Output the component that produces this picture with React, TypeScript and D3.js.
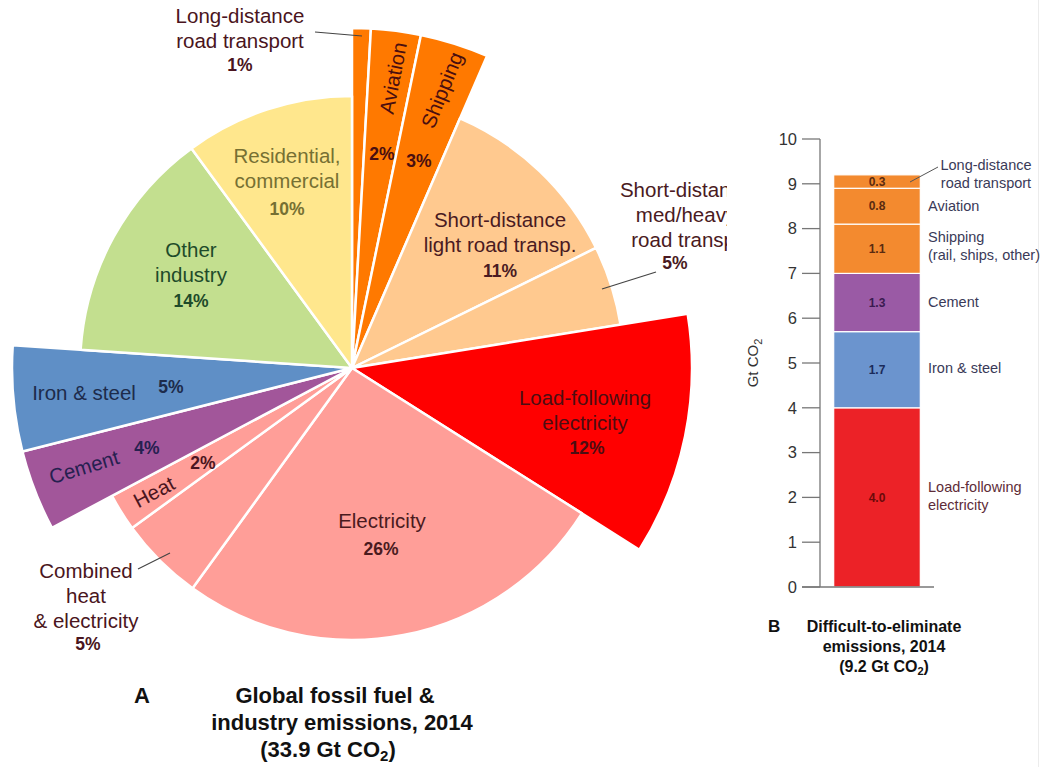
import React from "react";
import * as d3 from "d3";

// ---------- DATA ----------
const pieCategories = [
  "Long-distance road transport",
  "Aviation",
  "Shipping",
  "Short-distance light road transp.",
  "Short-distance med/heavy road transp.",
  "Load-following electricity",
  "Electricity",
  "Combined heat & electricity",
  "Heat",
  "Cement",
  "Iron & steel",
  "Other industry",
  "Residential, commercial",
];
// emissions in Gt CO2 (total ≈ 33.9)
const pieValues = [0.3, 0.8, 1.1, 3.8, 1.6, 3.9, 8.8, 1.7, 0.75, 1.3, 1.7, 4.7, 3.4];
// printed (rounded) percentages
const piePercents = [1, 2, 3, 11, 5, 12, 26, 5, 2, 4, 5, 14, 10];
const pieDifficult = [true, true, true, false, false, true, false, false, false, true, true, false, false];
const pieLabelLines = [
  ["Long-distance", "road transport"],
  ["Aviation"],
  ["Shipping"],
  ["Short-distance", "light road transp."],
  ["Short-distance", "med/heavy", "road transp."],
  ["Load-following", "electricity"],
  ["Electricity"],
  ["Combined", "heat", "& electricity"],
  ["Heat"],
  ["Cement"],
  ["Iron & steel"],
  ["Other", "industry"],
  ["Residential,", "commercial"],
];

const barCategories = [
  "Load-following electricity",
  "Iron & steel",
  "Cement",
  "Shipping",
  "Aviation",
  "Long-distance road transport",
];
const barValues = [4.0, 1.7, 1.3, 1.1, 0.8, 0.3];
const barLabelLines = [
  ["Load-following", "electricity"],
  ["Iron & steel"],
  ["Cement"],
  ["Shipping", "(rail, ships, other)"],
  ["Aviation"],
  ["Long-distance", "road transport"],
];
const barTicks = [0, 1, 2, 3, 4, 5, 6, 7, 8, 9, 10];

// ---------- STYLE / LAYOUT ----------
const pieColors = [
  "#FF7900", "#FF7900", "#FF7900",
  "#FFC98F", "#FFC98F",
  "#FF0000",
  "#FF9E98", "#FF9E98", "#FF9E98",
  "#A2569A", "#5F8FC6", "#C3DF8F", "#FFE78D",
];
const pieTextColors = [
  "#4A1420", "#4A0E10", "#4A0E10",
  "#4A1A22", "#4A1A22",
  "#4D0D12",
  "#4A1A1E", "#4A1520", "#4A1520",
  "#262050", "#1D2B4B", "#1E4B2A", "#767033",
];
// x, y (first baseline or centre for rotated), rotation, pct x, pct y
const pieLabelLayout = [
  { x: 240, y: 23, rot: 0, px: 240, py: 71 },
  { x: 393, y: 78, rot: -79, px: 382, py: 160 },
  { x: 442, y: 90, rot: -68, px: 419, py: 167 },
  { x: 500, y: 227, rot: 0, px: 500, py: 277 },
  { x: 686, y: 197, rot: 0, px: 675, py: 269 },
  { x: 585, y: 405, rot: 0, px: 587, py: 454 },
  { x: 382, y: 528, rot: 0, px: 381, py: 555 },
  { x: 86, y: 578, rot: 0, px: 88, py: 650 },
  { x: 154, y: 492, rot: -28, px: 203, py: 469 },
  { x: 84, y: 467, rot: -17, px: 147, py: 454 },
  { x: 84, y: 400, rot: 0, px: 171, py: 393 },
  { x: 191, y: 257, rot: 0, px: 191, py: 307 },
  { x: 287, y: 163, rot: 0, px: 287, py: 215 },
];

const barColors = ["#EC2227", "#6B94CE", "#9A5AA5", "#F38A2F", "#F38A2F", "#F38A2F"];
const barValueColors = ["#6A0A0A", "#1A2A5A", "#3A1A50", "#5A2A10", "#5A2A10", "#5A2A10"];
const barLabelY = [492, 373, 307, 242, 211, 170];
const barLabelX = [928, 928, 928, 928, 928, 986];

const FONT = "'Liberation Sans', Arial, Helvetica, sans-serif";

export default function App() {
  const cx = 352;
  const cy = 368;
  const rNormal = 272;
  const rOut = 340;

  const pieGen = d3.pie<number>().sort(null).value((d) => d).startAngle(0).endAngle(2 * Math.PI);
  const arcs = pieGen(pieValues);
  const arcGen = d3
    .arc<d3.PieArcDatum<number>>()
    .innerRadius(0)
    .outerRadius((d) => (pieDifficult[d.index] ? rOut : rNormal));

  // bar chart
  const y = d3.scaleLinear().domain([0, 10]).range([587, 139]);
  const x = d3.scaleBand<string>().domain(["2014"]).range([820, 934]).paddingInner(0).paddingOuter(0.158);
  const bx = x("2014")!;
  const bw = x.bandwidth();
  const cum: number[] = [];
  barValues.reduce((acc, v) => {
    cum.push(acc);
    return acc + v;
  }, 0);
  const barMid = bx + bw / 2;

  return (
    <svg
      width={1040}
      height={767}
      style={{ position: "absolute", left: 0, top: 0, background: "#fff" }}
      fontFamily={FONT}
    >
      <defs>
        <clipPath id="clipLeft">
          <rect x={0} y={0} width={727} height={767} />
        </clipPath>
      </defs>
      <rect x={0} y={0} width={1040} height={767} fill="#fff" />
      <line x1={1038.5} y1={0} x2={1038.5} y2={767} stroke="#ececec" strokeWidth={1} />

      {/* ---------- PIE ---------- */}
      <g transform={`translate(${cx},${cy})`}>
        {arcs.map((a, i) => (
          <path
            key={pieCategories[i]}
            d={arcGen(a) || ""}
            fill={pieColors[i]}
            stroke="#fff"
            strokeWidth={2.5}
            strokeLinejoin="round"
          />
        ))}
      </g>

      {/* leader lines */}
      <line x1={315} y1={32} x2={362} y2={36} stroke="#444" strokeWidth={1.2} />
      <line x1={602} y1={289} x2={656} y2={272} stroke="#444" strokeWidth={1.2} />
      <line x1={138} y1={569} x2={170} y2={553} stroke="#444" strokeWidth={1.2} />

      {/* pie labels */}
      <g clipPath="url(#clipLeft)">
        {pieLabelLines.map((lines, i) => {
          const L = pieLabelLayout[i];
          const col = pieTextColors[i];
          return (
            <g key={"lbl" + i}>
              {L.rot !== 0 ? (
                <text
                  transform={`translate(${L.x},${L.y}) rotate(${L.rot})`}
                  textAnchor="middle"
                  dy="0.35em"
                  fontSize={20.5}
                  fill={col}
                >
                  {lines[0]}
                </text>
              ) : (
                <text textAnchor="middle" fontSize={20.5} fill={col}>
                  {lines.map((ln, k) => (
                    <tspan key={k} x={L.x} y={L.y + k * 25}>
                      {ln}
                    </tspan>
                  ))}
                </text>
              )}
              <text x={L.px} y={L.py} textAnchor="middle" fontSize={17.5} fontWeight="bold" fill={col}>
                {`${piePercents[i]}%`}
              </text>
            </g>
          );
        })}
      </g>

      {/* title A */}
      <text x={134} y={703} fontSize={22} fontWeight="bold" fill="#111">A</text>
      <text textAnchor="middle" fontSize={22} fontWeight="bold" fill="#111">
        <tspan x={335} y={703}>Global fossil fuel &amp;</tspan>
        <tspan x={342} y={730}>industry emissions, 2014</tspan>
        <tspan x={328} y={757}>
          (33.9 Gt CO
          <tspan fontSize={15} dy={4}>2</tspan>
          <tspan dy={-4}>)</tspan>
        </tspan>
      </text>

      {/* ---------- BAR ---------- */}
      {barValues.map((v, i) => (
        <rect
          key={barCategories[i]}
          x={bx}
          y={y(cum[i] + v)}
          width={bw}
          height={y(cum[i]) - y(cum[i] + v)}
          fill={barColors[i]}
          stroke="#fff"
          strokeWidth={1.2}
        />
      ))}
      {barValues.map((v, i) => (
        <text
          key={"bv" + i}
          x={barMid}
          y={y(cum[i] + v / 2)}
          dy="0.35em"
          textAnchor="middle"
          fontSize={12}
          fontWeight="bold"
          fill={barValueColors[i]}
        >
          {v.toFixed(1)}
        </text>
      ))}

      {/* axis */}
      <line x1={820} y1={y(10)} x2={820} y2={y(0)} stroke="#777" strokeWidth={1.3} />
      <line x1={802} y1={y(0)} x2={934} y2={y(0)} stroke="#777" strokeWidth={1.3} />
      {barTicks.map((t) => (
        <g key={"t" + t}>
          <line x1={802} x2={820} y1={y(t)} y2={y(t)} stroke="#777" strokeWidth={1.3} />
          <text x={797} y={y(t)} dy="0.35em" textAnchor="end" fontSize={16.5} fill="#333">
            {t}
          </text>
        </g>
      ))}
      <text transform={`translate(758,363) rotate(-90)`} textAnchor="middle" fontSize={15} fill="#333">
        Gt CO
        <tspan fontSize={11} dy={4}>2</tspan>
      </text>

      {/* bar labels */}
      {barLabelLines.map((lines, i) => (
        <text
          key={"bl" + i}
          textAnchor={i === 5 ? "middle" : "start"}
          fontSize={14.5}
          fill={i === 0 ? "#5E2C38" : "#3A3A58"}
        >
          {lines.map((ln, k) => (
            <tspan key={k} x={barLabelX[i]} y={barLabelY[i] + k * 18}>
              {ln}
            </tspan>
          ))}
        </text>
      ))}
      <line x1={910} y1={182} x2={938} y2={167} stroke="#555" strokeWidth={1} />

      {/* title B */}
      <text x={768} y={632} fontSize={17} fontWeight="bold" fill="#111">B</text>
      <text textAnchor="middle" fontSize={16} fontWeight="bold" fill="#111">
        <tspan x={884} y={632}>Difficult-to-eliminate</tspan>
        <tspan x={884} y={652}>emissions, 2014</tspan>
        <tspan x={884} y={672}>
          (9.2 Gt CO
          <tspan fontSize={11} dy={3}>2</tspan>
          <tspan dy={-3}>)</tspan>
        </tspan>
      </text>
    </svg>
  );
}
